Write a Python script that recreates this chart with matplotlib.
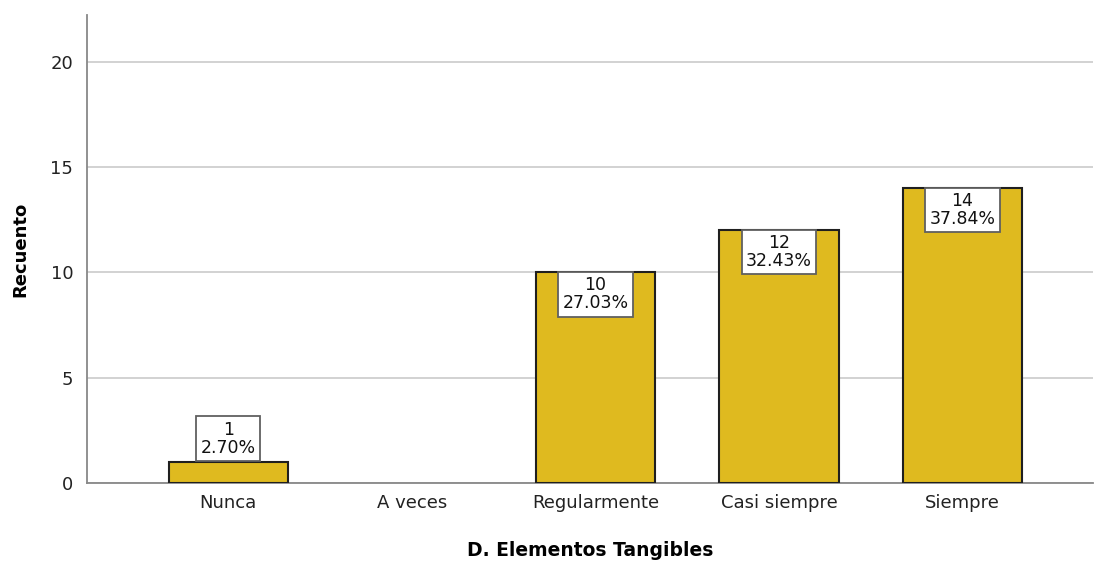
import matplotlib
matplotlib.use("Agg")
import matplotlib.pyplot as plt

categories = ["Nunca", "A veces", "Regularmente", "Casi siempre", "Siempre"]
counts = [1, 0, 10, 12, 14]
percents = ["2.70%", "0.00%", "27.03%", "32.43%", "37.84%"]
yticks = [0, 5, 10, 15, 20]

plt.rcParams["font.family"] = ["DejaVu Sans"]

fig = plt.figure(figsize=(10.95, 5.62), dpi=100)
ax = fig.add_axes([0.0795, 0.1406, 0.9185, 0.8324])

x = list(range(len(categories)))
shown = [i for i, c in enumerate(counts) if c > 0]
ax.bar([x[i] for i in shown], [counts[i] for i in shown], width=0.65,
       color="#DFBA1F", edgecolor="#1f1f1f", linewidth=1.5, zorder=3)

label_fs = 12.5
pad = 0.25
pad_pt = pad * label_fs
for i in shown:
    c = counts[i]
    box = dict(boxstyle=f"square,pad={pad}", facecolor="white",
               edgecolor="#606060", linewidth=1.3)
    label = f"{c}\n{percents[i]}"
    if c < 3:
        ax.annotate(label, (x[i], c), xytext=(0, pad_pt + 0.6), textcoords="offset points",
                    ha="center", va="bottom", fontsize=label_fs, linespacing=1.0,
                    color="#111111", bbox=box, zorder=4)
    else:
        ax.annotate(label, (x[i], c), xytext=(0, -pad_pt + 0.3), textcoords="offset points",
                    ha="center", va="top", fontsize=label_fs, linespacing=1.0,
                    color="#111111", bbox=box, zorder=4)

ax.set_xlim(-0.77, 4.71)
ax.set_ylim(0, 22.2)
ax.set_yticks(yticks)
ax.set_xticks(x)
ax.set_xticklabels(categories)
ax.tick_params(axis="both", length=0, labelsize=13, colors="#222222")
ax.tick_params(axis="y", pad=10)
ax.tick_params(axis="x", pad=8)

ax.grid(axis="y", color="#cfcfcf", linewidth=1.3, zorder=0)
ax.set_axisbelow(True)
for side in ("top", "right"):
    ax.spines[side].set_visible(False)
for side in ("left", "bottom"):
    ax.spines[side].set_color("#888888")
    ax.spines[side].set_linewidth(1.3)

ax.set_ylabel("Recuento", fontsize=13, fontweight="bold", labelpad=15)
ax.set_xlabel("D. Elementos Tangibles", fontsize=13.5, fontweight="bold", labelpad=21)

fig.savefig("out.png", dpi=100, facecolor="white")
